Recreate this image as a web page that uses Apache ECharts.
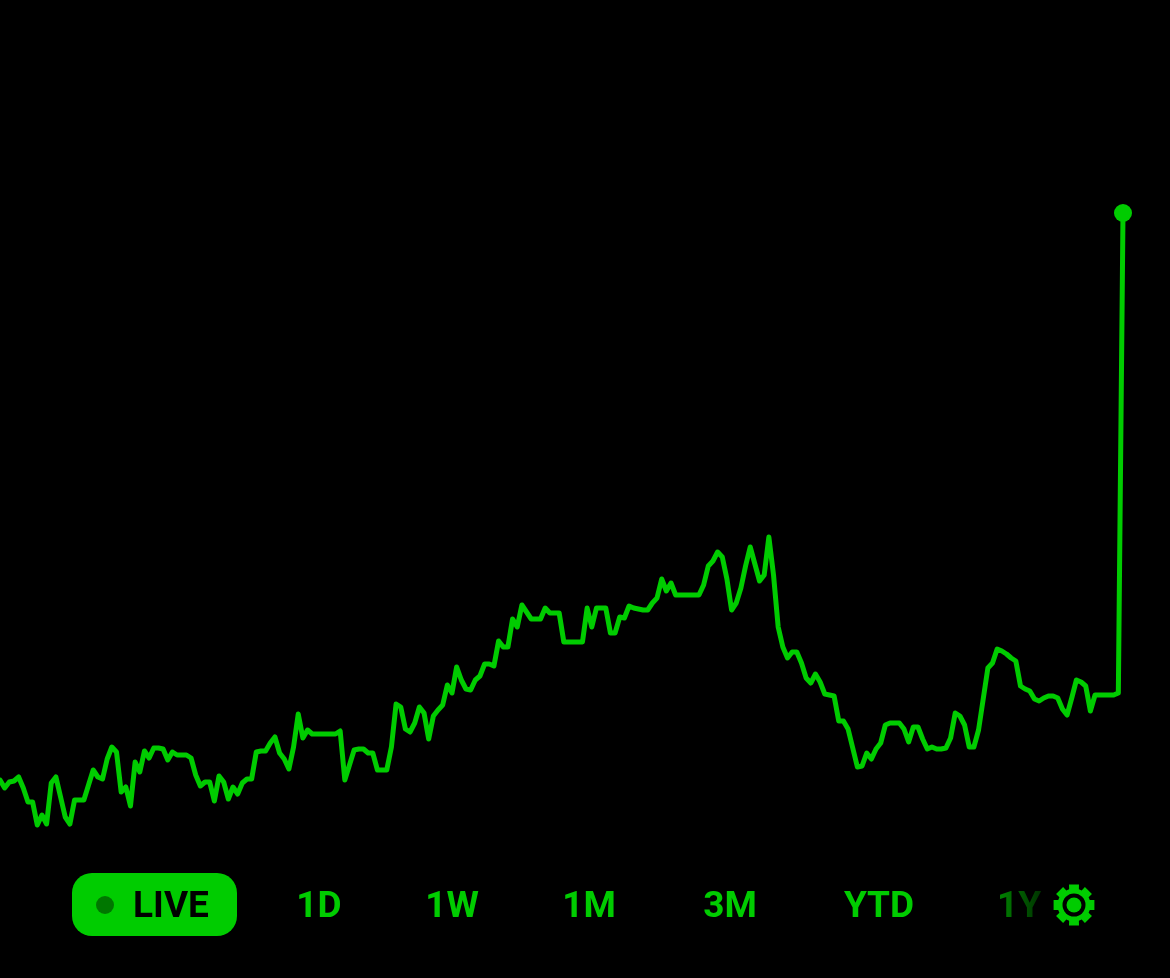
<!DOCTYPE html>
<html><head><meta charset="utf-8">
<style>html,body{margin:0;padding:0;background:#000}#c{width:1170px;height:978px}</style>
<script src="https://cdn.jsdelivr.net/npm/echarts@6/dist/echarts.min.js"></script>
</head><body><div id="c"></div>
<script>
const priceSeries = [
198,190,196,197,201,190,176,176,153,163,154,195,201,181,161,154,178,178,178,193,
208,201,199,219,231,226,186,191,172,216,206,227,220,230,230,229,218,226,223,223,
223,220,203,192,196,196,177,202,196,179,191,184,195,199,199,226,227,227,235,241,
225,219,209,231,264,240,248,244,244,244,244,244,244,247,198,213,228,229,229,225,
225,208,208,208,231,274,271,249,246,255,271,265,239,262,268,273,293,285,311,298,
289,288,298,302,314,314,312,337,331,331,359,351,373,366,359,359,359,370,365,365,
365,336,336,336,336,336,370,351,370,370,370,345,345,361,360,372,370,369,368,368,
375,380,399,387,395,383,383,383,383,383,383,393,412,417,426,421,399,368,375,390,
412,431,414,397,403,441,403,351,331,320,326,326,315,300,295,304,296,284,283,282,
257,257,249,230,211,212,225,219,229,235,253,255,255,255,249,236,251,251,239,229,
231,229,229,230,240,265,262,253,231,231,248,279,310,315,329,327,324,320,317,292,
289,287,279,277,280,282,282,280,269,263,280,298,296,292,267,283,283,283,283,283,
285,765];
const rangeLabels = ['LIVE','1D','1W','1M','3M','YTD','1Y'];
const labelCenters = [171,319,452,589,730,879,1019];
const GREEN = '#00cc00';
const FONT = 'Roboto, sans-serif';

const indexes = priceSeries.map((_, i) => i);
const lastIdx = priceSeries.length - 1;

function gearPoints(cx, cy, rIn, rOut, teeth) {
  const pts = [];
  const step = Math.PI * 2 / teeth;
  for (let t = 0; t < teeth; t++) {
    const a = t * step - Math.PI / 2;
    const baseHalf = 0.30, tipHalf = 0.24;
    pts.push([cx + rIn * Math.cos(a - baseHalf), cy + rIn * Math.sin(a - baseHalf)]);
    pts.push([cx + rOut * Math.cos(a - tipHalf), cy + rOut * Math.sin(a - tipHalf)]);
    pts.push([cx + rOut * Math.cos(a + tipHalf), cy + rOut * Math.sin(a + tipHalf)]);
    pts.push([cx + rIn * Math.cos(a + baseHalf), cy + rIn * Math.sin(a + baseHalf)]);
  }
  return pts;
}

const textEls = rangeLabels.map((s, i) => ({
  type: 'text',
  x: labelCenters[i], y: 908,
  style: {
    text: s, font: '700 37px ' + FONT,
    fill: i === 0 ? '#000' : GREEN,
    align: 'center', verticalAlign: 'middle'
  },
  z: 10
}));

const chart = echarts.init(document.getElementById('c'), null, {renderer: 'canvas'});
chart.setOption({
  backgroundColor: '#000',
  animation: false,
  grid: {left: 0, top: 0, width: 1123, height: 978, containLabel: false},
  xAxis: {type: 'category', data: indexes, boundaryGap: false, show: false},
  yAxis: {type: 'value', min: 0, max: 978, show: false},
  series: [
    {type: 'line', data: priceSeries, showSymbol: false, clip: false, smooth: false,
     lineStyle: {color: GREEN, width: 5, join: 'round', cap: 'round'}, silent: true},
    {type: 'scatter', data: [[lastIdx, priceSeries[lastIdx]]], symbol: 'circle', symbolSize: 18, clip: false,
     itemStyle: {color: GREEN, opacity: 1}, silent: true}
  ],
  graphic: {elements: [
    {type: 'rect', shape: {x: 72, y: 873, width: 165, height: 63, r: 20}, style: {fill: GREEN}, z: 5},
    {type: 'circle', shape: {cx: 105, cy: 905, r: 9}, style: {fill: '#007700'}, z: 6},
    ...textEls,
    {type: 'rect', shape: {x: 996, y: 884, width: 48, height: 42},
     style: {fill: new echarts.graphic.LinearGradient(0, 0, 1, 0, [
       {offset: 0, color: 'rgba(0,0,0,0.33)'}, {offset: 1, color: 'rgba(0,0,0,0.78)'}])}, z: 11},
    {type: 'polygon', shape: {points: gearPoints(1074, 905, 16.5, 21, 8)}, style: {fill: GREEN}, z: 7},
    {type: 'circle', shape: {cx: 1074, cy: 905, r: 11.5}, style: {fill: '#000'}, z: 8},
    {type: 'circle', shape: {cx: 1074, cy: 905, r: 7.5}, style: {fill: GREEN}, z: 9}
  ]}
});
</script></body></html>
